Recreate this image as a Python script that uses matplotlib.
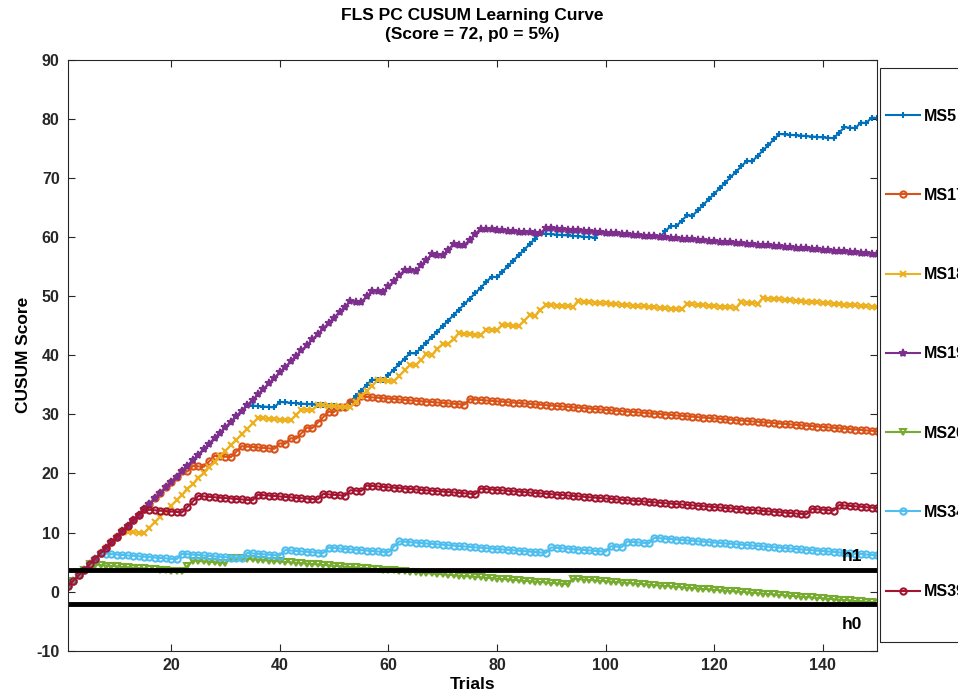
import numpy as np
import matplotlib.pyplot as plt
from matplotlib.patches import Rectangle

plt.rcParams['font.family'] = ['Liberation Sans', 'DejaVu Sans']
plt.rcParams['font.weight'] = 'bold'
plt.rcParams['axes.unicode_minus'] = False

# CUSUM settings (p0 = 5%, p1 = 10%, alpha = 0.05, beta = 0.2)
s = 0.0724      # taken off after a pass, a fail adds 1 - s
h1 = 3.71
h0 = -2.09

# outcome runs: fail, pass, fail, pass, ... (150 trials)
ms5 = [34, 5, 1, 12, 5, 2, 5, 1, 14, 1, 8, 10, 1, 11, 2, 1, 2, 1, 10, 1,
       5, 10, 2, 2, 1, 1, 1, 1]
ms17 = [22, 1, 1, 2, 2, 3, 2, 6, 1, 1, 1, 1, 2, 1, 3, 1, 1, 1, 1, 1, 1, 19,
        1, 75]
ms18 = [11, 4, 21, 6, 2, 2, 1, 6, 5, 3, 3, 1, 2, 1, 2, 1, 2, 4, 1, 2, 1, 3,
        2, 1, 2, 5, 1, 19, 1, 9, 1, 3, 1, 21]
ms19 = [53, 2, 2, 2, 4, 2, 3, 2, 2, 2, 3, 11, 1, 61]
ms20 = [5, 17, 2, 6, 1, 62, 1, 56]
ms34 = [7, 14, 1, 11, 1, 6, 1, 7, 1, 11, 2, 27, 1, 10, 1, 2, 1, 4, 1, 41]
ms39 = [15, 7, 3, 10, 1, 11, 1, 4, 1, 2, 1, 20, 1, 60, 1, 4, 1, 7]

names = ["MS5", "MS17", "MS18", "MS19", "MS20", "MS34", "MS39"]
runs_all = [ms5, ms17, ms18, ms19, ms20, ms34, ms39]
colors = ["#0072BD", "#D95319", "#EDB120", "#7E2F8E", "#77AC30", "#4DBEEE", "#A2142F"]
markers = ["+", "o", "x", "*", "v", "o", "o"]


def cusum(runs):
    steps = []
    for i, n in enumerate(runs):
        steps += [1 - s if i % 2 == 0 else -s] * n
    return np.cumsum(steps)


trials = np.arange(1, 151)

fig = plt.figure(figsize=(9.58, 6.93), dpi=100)
ax = fig.add_axes([0.071, 0.061, 0.8445, 0.8528])

for runs, name, c, m in zip(runs_all, names, colors, markers):
    if m == "*":
        ax.plot(trials, cusum(runs), color=c, marker=m, ms=6, mew=1.2,
                lw=1.5, label=name)
    else:
        ax.plot(trials, cusum(runs), color=c, marker=m, ms=4.5, mew=1.5,
                mfc="none", lw=1.5, label=name)

ax.plot([1, 150], [h1, h1], color="k", lw=3.5)
ax.plot([1, 150], [h0, h0], color="k", lw=3.5)
ax.text(145.4, h1 + 2.3, "h1", fontsize=12.5, fontweight="bold", ha="center", va="center")
ax.text(145.4, h0 - 3.5, "h0", fontsize=12.5, fontweight="bold", ha="center", va="center")

ax.set_xlim(1, 150)
ax.set_ylim(-10, 90)
ax.set_xticks(range(20, 141, 20))
ax.set_yticks(range(-10, 91, 10))
ax.tick_params(direction="in", top=True, right=True, length=5, width=0.8,
               labelsize=11.5, colors="#262626")
ax.tick_params(axis="y", pad=6)
ax.tick_params(axis="x", pad=5)
for sp in ax.spines.values():
    sp.set_color("#262626")
    sp.set_linewidth(0.8)

ax.set_title("FLS PC CUSUM Learning Curve\n(Score = 72, p0 = 5%)",
             fontsize=12.5, fontweight="bold", pad=15, linespacing=1.35)
ax.set_xlabel("Trials", fontsize=12.5, fontweight="bold", labelpad=3)
ax.set_ylabel("CUSUM Score", fontsize=12.5, fontweight="bold", labelpad=4)

# legend box sits outside the axes and runs off the right edge,
# labels are clipped there just as in the original figure
fig.add_artist(Rectangle((880 / 958, 1 - 642 / 693), 0.2, (642 - 68) / 693,
                         transform=fig.transFigure, fill=False,
                         ec="#262626", lw=0.8))
fig.legend(loc="center left", bbox_to_anchor=(886 / 958, 1 - 354 / 693),
           frameon=False, fontsize=11.5, labelspacing=4.02, borderpad=0,
           borderaxespad=0, handlelength=2.1, handletextpad=0.25, numpoints=1)

fig.savefig("out.png", dpi=100)
